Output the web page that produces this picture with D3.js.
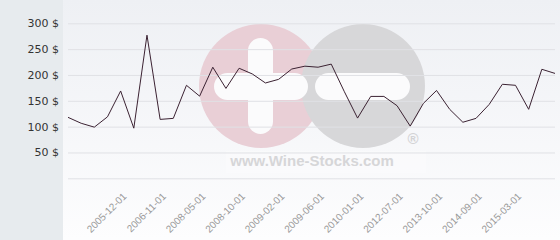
<!DOCTYPE html>
<html>
<head>
<meta charset="utf-8">
<script src="https://cdn.jsdelivr.net/npm/d3@7"></script>
<style>
  html, body { margin: 0; padding: 0; background: #ffffff; }
  svg { display: block; }
</style>
</head>
<body>
<svg id="chart" width="560" height="240"></svg>
<script>
// ---- data ----
const dates = [
  "2004-06-01", "2004-12-01", "2005-04-01", "2005-08-01", "2005-12-01",
  "2006-03-01", "2006-07-01", "2006-11-01", "2007-04-01", "2007-10-01",
  "2008-05-01", "2008-07-01", "2008-09-01", "2008-10-01", "2008-11-01",
  "2008-12-01", "2009-02-01", "2009-03-01", "2009-04-01", "2009-06-01",
  "2009-08-01", "2009-11-01", "2010-01-01", "2010-10-01", "2011-08-01",
  "2012-07-01", "2012-12-01", "2013-05-01", "2013-10-01", "2014-02-01",
  "2014-06-01", "2014-09-01", "2014-11-01", "2015-01-01", "2015-03-01",
  "2015-07-01", "2015-11-01", "2016-03-01"
];
const prices = [
  118, 106.5, 99, 119, 169, 97, 277, 114, 116, 180,
  159, 215, 174, 213, 202, 184.5, 191.5, 211.5, 217, 215,
  221, 167.5, 116.5, 158.5, 158.5, 140.5, 101, 145, 170, 133.5,
  108.5, 116, 143, 182, 180, 133.5, 211, 203
];
const shownLabels = [
  "2005-12-01", "2006-11-01", "2008-05-01", "2008-10-01", "2009-02-01",
  "2009-06-01", "2010-01-01", "2012-07-01", "2013-10-01", "2014-09-01", "2015-03-01"
];
const yTicks = [0, 50, 100, 150, 200, 250, 300];

// ---- drawing ----
const svg = d3.select("#chart");
const W = 560, H = 240;

const defs = svg.append("defs");
const grad = defs.append("linearGradient").attr("id", "bg").attr("x1", 0).attr("y1", 0).attr("x2", 0).attr("y2", 1);
grad.append("stop").attr("offset", "0%").attr("stop-color", "#eef0f4");
grad.append("stop").attr("offset", "100%").attr("stop-color", "#fdfdfe");

// left panel + plot background
svg.append("rect").attr("x", 0).attr("y", 0).attr("width", 63).attr("height", H).attr("fill", "#e7ebee");
svg.append("rect").attr("x", 63).attr("y", 0).attr("width", W - 63).attr("height", H).attr("fill", "url(#bg)");

const x = d3.scalePoint().domain(dates).range([68, 555]).padding(0);
const y = d3.scaleLinear().domain([0, 300]).range([178.3, 23.3]);

// watermark
const wm = svg.append("g").attr("class", "watermark");
wm.append("rect").attr("x", 226).attr("y", 151).attr("width", 200).attr("height", 22).attr("fill", "#ffffff").attr("opacity", 0.25);
wm.append("circle").attr("cx", 261).attr("cy", 86).attr("r", 62).attr("fill", "#e9cfd6");
wm.append("circle").attr("cx", 363).attr("cy", 86).attr("r", 62).attr("fill", "#d7d7d9");
wm.append("rect").attr("x", 248).attr("y", 38).attr("width", 25).attr("height", 96).attr("rx", 12.5).attr("fill", "#fbfbfc");
wm.append("rect").attr("x", 214).attr("y", 73).attr("width", 94).attr("height", 27).attr("rx", 13.5).attr("fill", "#fbfbfc");
wm.append("rect").attr("x", 315).attr("y", 73).attr("width", 95).attr("height", 27).attr("rx", 13.5).attr("fill", "#fbfbfc");
wm.append("text").attr("x", 413).attr("y", 144).attr("text-anchor", "middle")
  .attr("font-family", "Liberation Sans, Arial, sans-serif").attr("font-size", 15).attr("font-weight", "bold")
  .attr("fill", "#d3d3d5").text("®");
wm.append("text").attr("x", 312).attr("y", 166).attr("text-anchor", "middle")
  .attr("font-family", "Liberation Sans, Arial, sans-serif").attr("font-size", 15).attr("font-weight", "bold")
  .attr("fill", "#d6d6d8").text("www.Wine-Stocks.com");

// gridlines + y labels
const yAxis = d3.axisLeft(y).tickValues(yTicks).tickSize(-(555 - 68)).tickPadding(9)
  .tickFormat(d => d === 0 ? "" : d + " $");
const gy = svg.append("g").attr("transform", "translate(68,0)").call(yAxis);
gy.select(".domain").remove();
gy.selectAll(".tick line").attr("stroke", "#e0e1e5").attr("stroke-width", 1);
gy.selectAll(".tick text").attr("font-family", "DejaVu Sans, sans-serif").attr("font-size", 11)
  .attr("fill", "#333333").attr("x", -9);

// x labels
const xAxis = d3.axisBottom(x).tickValues(shownLabels).tickSize(0).tickPadding(0);
const gx = svg.append("g").attr("transform", "translate(0,197)").call(xAxis);
gx.select(".domain").remove();
gx.selectAll(".tick text")
  .attr("font-family", "Liberation Sans, Arial, sans-serif").attr("font-size", 10).attr("fill", "#999999")
  .attr("text-anchor", "end").attr("dy", 0).attr("y", 0)
  .attr("transform", "translate(6,0) rotate(-45)");

// line
const line = d3.line().x((d, i) => x(dates[i])).y(d => y(d));
svg.append("path").datum(prices).attr("d", line).attr("fill", "none")
  .attr("stroke", "#3b2232").attr("stroke-width", 1).attr("stroke-linejoin", "miter");
</script>
</body>
</html>
